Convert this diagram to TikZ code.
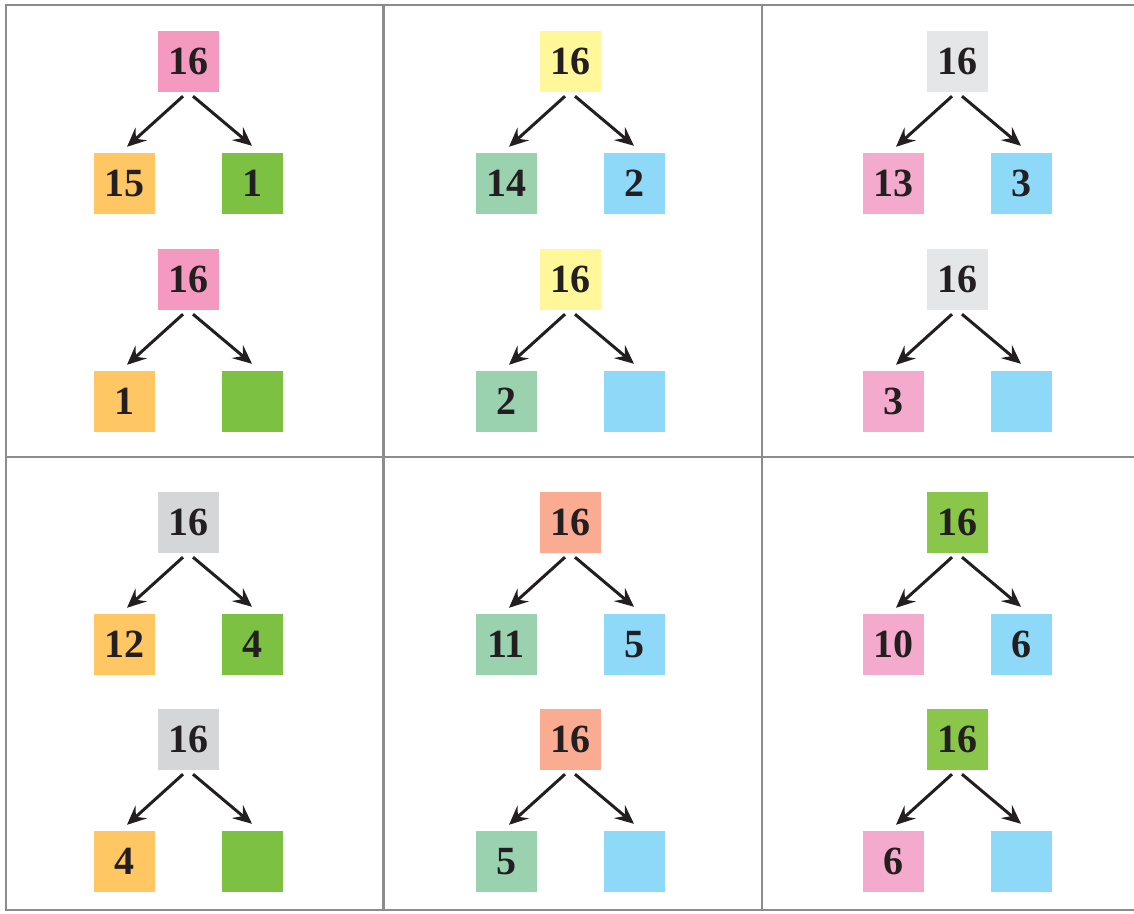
\documentclass[tikz,border=0pt]{standalone}
\usepackage{fontspec}
\setmainfont{Liberation Serif}
\usetikzlibrary{arrows.meta}
\definecolor{txt}{HTML}{231F20}
\definecolor{gridc}{HTML}{8C8C8D}
\definecolor{cpink}{HTML}{F49AC1}
\definecolor{corange}{HTML}{FFC764}
\definecolor{cgreen}{HTML}{7DC142}
\definecolor{cyellow}{HTML}{FFF799}
\definecolor{cmint}{HTML}{9AD2AF}
\definecolor{cblue}{HTML}{8ED8F8}
\definecolor{clgrey}{HTML}{E5E6E8}
\definecolor{cpink2}{HTML}{F4AACD}
\definecolor{cgrey}{HTML}{D5D6D8}
\definecolor{csalmon}{HTML}{F9AC91}
\definecolor{cgreen2}{HTML}{8AC64A}
\tikzset{
  numbox/.style={fill=#1, minimum width=61pt, minimum height=61pt, inner sep=0pt,
    text=txt, font=\fontsize{40}{42}\selectfont\bfseries},
  arr/.style={draw=txt, line width=3pt, -{Stealth[length=19pt,width=17pt,inset=7pt]}},
  gridline/.style={draw=gridc, line width=2.6pt}
}
\newcommand\numtree[9]{%
  \node[numbox=#4] (#1t) at (#2,#3) {#5};
  \node[numbox=#6] (#1l) at ([shift={(-64,122)}]#1t.center) {#7};
  \node[numbox=#8] (#1r) at ([shift={(64,122)}]#1t.center) {#9};
  \draw[arr] ([shift={(-5,4)}]#1t.south) -- ([shift={(3,-6)}]#1l.north);
  \draw[arr] ([shift={(5,4)}]#1t.south) -- ([shift={(0,-7)}]#1r.north);
}
\begin{document}
\begin{tikzpicture}[x=1pt,y=-1pt]
\useasboundingbox (0,0) rectangle (1134,913);
% grid
\coordinate (g1) at (6,5);
\coordinate (g2) at (1140,5);
\coordinate (g3) at (6,910);
\coordinate (g4) at (1140,910);
\coordinate (g5) at (6,457);
\coordinate (g6) at (1140,457);
\coordinate (v1a) at (383.5,5);
\coordinate (v1b) at (383.5,910);
\coordinate (v2a) at (762,5);
\coordinate (v2b) at (762,910);
\draw[gridline] (g2) -- (g1) -- (g3) -- (g4);
\draw[gridline] (g5) -- (g6);
\draw[gridline] (v1a) -- (v1b);
\draw[gridline] (v2a) -- (v2b);
% panel 1
\numtree{a}{188}{61.5}{cpink}{16}{corange}{15}{cgreen}{1}
\numtree{b}{188}{279.5}{cpink}{16}{corange}{1}{cgreen}{}
% panel 2
\numtree{c}{570}{61.5}{cyellow}{16}{cmint}{14}{cblue}{2}
\numtree{d}{570}{279.5}{cyellow}{16}{cmint}{2}{cblue}{}
% panel 3
\numtree{e}{957}{61.5}{clgrey}{16}{cpink2}{13}{cblue}{3}
\numtree{f}{957}{279.5}{clgrey}{16}{cpink2}{3}{cblue}{}
% panel 4
\numtree{g}{188}{522.5}{cgrey}{16}{corange}{12}{cgreen}{4}
\numtree{h}{188}{739.5}{cgrey}{16}{corange}{4}{cgreen}{}
% panel 5
\numtree{i}{570}{522.5}{csalmon}{16}{cmint}{11}{cblue}{5}
\numtree{j}{570}{739.5}{csalmon}{16}{cmint}{5}{cblue}{}
% panel 6
\numtree{k}{957}{522.5}{cgreen2}{16}{cpink2}{10}{cblue}{6}
\numtree{l}{957}{739.5}{cgreen2}{16}{cpink2}{6}{cblue}{}
\end{tikzpicture}
\end{document}
